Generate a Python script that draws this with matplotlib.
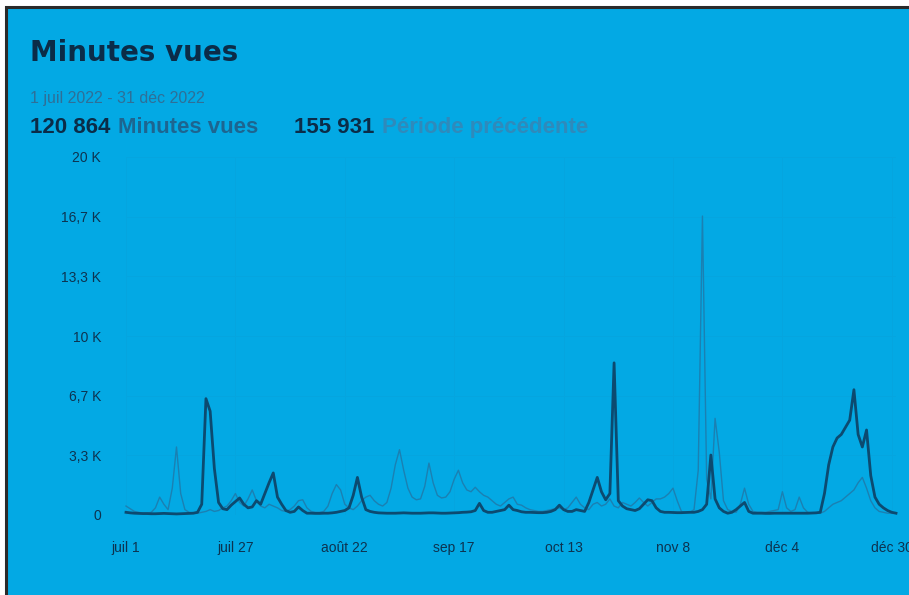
import matplotlib
matplotlib.use("Agg")
import matplotlib.pyplot as plt
from matplotlib.patches import Rectangle

# daily "minutes vues", 1 juil -> 31 dec 2022
current = [150, 120, 100, 90, 80, 80, 70, 70, 80, 90,
           80, 70, 60, 70, 80, 90, 100, 150, 600, 6500,
           5800, 2600, 700, 350, 300, 550, 750, 950, 600, 400,
           450, 800, 600, 1200, 1800, 2350, 1000, 600, 250, 150,
           200, 450, 250, 100, 100, 90, 90, 100, 100, 120,
           150, 200, 250, 400, 1100, 2100, 1000, 300, 200, 150,
           120, 110, 100, 100, 100, 110, 120, 110, 100, 100,
           100, 110, 120, 120, 110, 100, 100, 110, 120, 130,
           150, 160, 180, 250, 650, 250, 150, 150, 200, 250,
           300, 550, 300, 250, 180, 150, 150, 140, 130, 130,
           150, 200, 300, 550, 300, 200, 200, 300, 250, 200,
           700, 1400, 2100, 1300, 850, 1200, 8500, 800, 500, 350,
           300, 250, 350, 600, 850, 800, 400, 200, 150, 150,
           140, 130, 130, 140, 150, 150, 200, 300, 600, 3350,
           900, 400, 200, 100, 150, 300, 500, 700, 200, 100,
           100, 100, 90, 90, 100, 100, 100, 100, 100, 100,
           100, 100, 100, 110, 120, 150, 1200, 2800, 3800, 4300,
           4500, 4900, 5300, 7000, 4500, 3800, 4750, 2200, 1000, 600,
           400, 250, 150, 100]

previous = [500, 350, 200, 150, 100, 100, 150, 400, 1000, 600,
            300, 1500, 3800, 1200, 300, 150, 100, 100, 150, 200,
            300, 200, 250, 400, 500, 800, 1200, 700, 500, 900,
            1400, 800, 500, 400, 600, 500, 400, 250, 200, 300,
            500, 800, 850, 400, 200, 150, 150, 200, 500, 1200,
            1700, 1400, 600, 400, 300, 500, 800, 1000, 1100, 800,
            600, 500, 700, 1500, 2800, 3650, 2500, 1500, 1000, 850,
            900, 1600, 2900, 1800, 1100, 950, 1000, 1300, 2000, 2500,
            1800, 1400, 1300, 1550, 1300, 1100, 1000, 800, 600, 500,
            700, 900, 1000, 600, 550, 400, 300, 250, 200, 200,
            250, 300, 350, 400, 300, 400, 700, 1000, 600, 400,
            300, 600, 700, 500, 600, 900, 500, 400, 700, 600,
            500, 700, 950, 700, 500, 700, 900, 900, 1000, 1200,
            1500, 800, 200, 150, 150, 300, 2500, 16700, 2000, 900,
            5400, 3500, 800, 300, 200, 150, 600, 1500, 600, 200,
            150, 150, 150, 200, 250, 300, 1300, 400, 200, 300,
            1000, 400, 150, 100, 100, 100, 200, 400, 600, 700,
            800, 1000, 1200, 1400, 1800, 2100, 1500, 800, 400, 200,
            150, 100, 100, 100]

ytick_vals = [0, 3333, 6667, 10000, 13333, 16667, 20000]
ytick_labels = ["0", "3,3 K", "6,7 K", "10 K", "13,3 K", "16,7 K", "20 K"]
xtick_days = [0, 26, 52, 78, 104, 130, 156, 182]
xtick_labels = ["juil 1", "juil 27", "août 22", "sep 17", "oct 13", "nov 8", "déc 4", "déc 30"]

BG = "#03a9e4"
W, H = 909, 595

fig = plt.figure(figsize=(W / 100, H / 100), dpi=100)
fig.patch.set_facecolor("white")
# blue card with a dark frame on top/left (picture is cropped right and bottom)
fig.patches.append(Rectangle((6 / W, -0.05), 1.1, 1 - 7 / H + 0.05, transform=fig.transFigure,
                             facecolor=BG, edgecolor="#2a2a2a", linewidth=2.2, zorder=-1))

ax = fig.add_axes([126 / W, 80 / H, 770 / W, 358 / H])
ax.set_facecolor(BG)
days = list(range(len(current)))
ax.plot(days, previous, color="#1b80b2", lw=1.0, clip_on=False, zorder=3)
ax.plot(days, current, color="#0c4a70", lw=2.0, clip_on=False, zorder=4, solid_joinstyle="round")

ax.set_xlim(0, 183)
ax.set_ylim(0, 20000)
ax.set_yticks(ytick_vals)
ax.set_yticklabels(ytick_labels, family="Liberation Sans")
ax.set_xticks(xtick_days)
ax.set_xticklabels(xtick_labels, family="Liberation Sans")
ax.tick_params(length=0, colors="#0d3350", labelsize=10)
ax.tick_params(axis="y", pad=18)
ax.tick_params(axis="x", pad=19)
for s in ax.spines.values():
    s.set_visible(False)
ax.grid(True, color="#06a5df", lw=0.6)
ax.set_axisbelow(True)

fig.text(30 / W, 1 - 61 / H, "Minutes vues", fontsize=20, fontweight="bold",
         color="#0b2c48", family="DejaVu Sans")
fig.text(30 / W, 1 - 103 / H, "1 juil 2022 - 31 déc 2022", fontsize=11.5,
         color="#2f6f97", family="Liberation Sans")
row_y = 1 - 133 / H
fig.text(30 / W, row_y, "120 864", fontsize=16, fontweight="bold",
         color="#0b2c48", family="Liberation Sans")
fig.text(118 / W, row_y, "Minutes vues", fontsize=16, fontweight="bold",
         color="#1d6590", family="Liberation Sans")
fig.text(294 / W, row_y, "155 931", fontsize=16, fontweight="bold",
         color="#0b2c48", family="Liberation Sans")
fig.text(382 / W, row_y, "Période précédente", fontsize=16, fontweight="bold",
         color="#2f8abb", family="Liberation Sans")

fig.savefig("out.png", dpi=100, facecolor=fig.get_facecolor())
